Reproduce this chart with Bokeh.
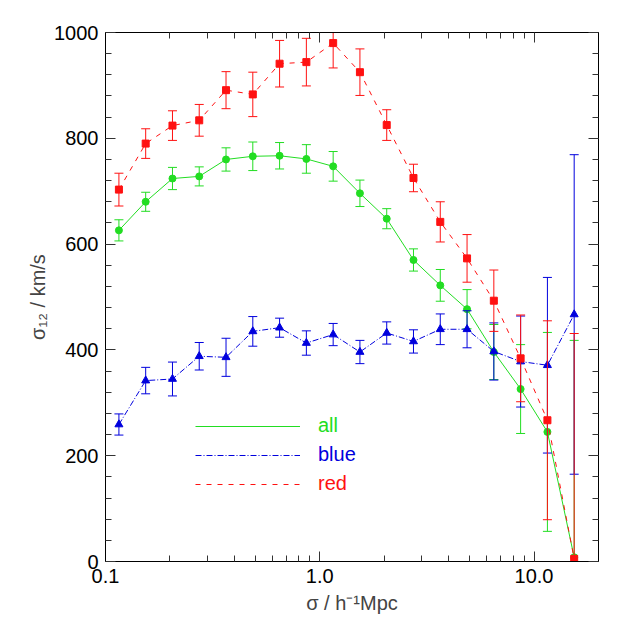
from bokeh.plotting import figure
from bokeh.models import (Range1d, LinearAxis, LogAxis, FixedTicker, SingleIntervalTicker,
                          Legend, LegendItem, ColumnDataSource)
from bokeh.embed import file_html
from bokeh.resources import INLINE

# separation bins (h^-1 Mpc)
r = [0.1155, 0.154, 0.2054, 0.2738, 0.3652, 0.487, 0.6494, 0.866, 1.155, 1.54,
     2.054, 2.738, 3.652, 4.87, 6.494, 8.66, 11.55, 15.4]

all_v = [626, 680, 724, 728, 760, 766, 767, 761, 747, 696, 648, 570, 522, 477, 396, 326, 245, 8]
all_e = [20, 18, 21, 18, 22, 27, 25, 27, 28, 25, 19, 21, 30, 37, 52, 84, 188, 410]

blue_v = [259, 342, 345, 388, 386, 435, 442, 413, 429, 396, 432, 416, 439, 439, 397, 378, 371, 467]
blue_e = [20, 25, 32, 26, 36, 28, 18, 23, 21, 22, 21, 22, 29, 35, 54, 86, 166, 302]

red_v = [703, 790, 824, 834, 891, 883, 941, 944, 980, 925, 825, 725, 642, 573, 493, 384, 267, 5]
red_e = [31, 28, 28, 30, 35, 42, 44, 45, 47, 44, 29, 26, 38, 45, 58, 82, 188, 426]

x_major = [0.1, 1.0, 10.0]
x_minor = [0.2, 0.3, 0.4, 0.5, 0.6, 0.7, 0.8, 0.9, 2, 3, 4, 5, 6, 7, 8, 9, 20]
x_labels = {0.1: "0.1", 1.0: "1.0", 10.0: "10.0"}

GREEN = "#22dd22"
BLUE = "#0000dd"
RED = "#ff1111"
FONT = "Liberation Sans"

p = figure(width=621, height=621, x_axis_type="log", output_backend="svg",
           toolbar_location=None, x_range=Range1d(0.1, 20), y_range=Range1d(0, 1000),
           min_border_left=105, min_border_right=23, min_border_top=32, min_border_bottom=60)
p.grid.visible = False
p.outline_line_color = "black"
p.outline_line_width = 1
p.background_fill_color = "white"
p.border_fill_color = "white"

def style_axis(ax, labels=True):
    ax.major_tick_in = 10
    ax.major_tick_out = 0
    ax.minor_tick_in = 6
    ax.minor_tick_out = 0
    ax.axis_line_color = "black"
    ax.major_tick_line_color = "#333333"
    ax.minor_tick_line_color = "#333333"
    ax.major_label_text_font = FONT
    ax.major_label_text_font_size = "20px"
    ax.major_label_text_color = "black"
    ax.axis_label_text_font = FONT
    ax.axis_label_text_font_size = "20px"
    ax.axis_label_text_font_style = "normal"
    if not labels:
        ax.major_label_text_font_size = "0px"
        ax.major_label_text_color = None

xt = FixedTicker(ticks=x_major, minor_ticks=x_minor)
yt = SingleIntervalTicker(interval=200, num_minor_ticks=5)

xa = p.xaxis[0]
xa.ticker = xt
xa.major_label_overrides = x_labels
xa.axis_label = "σ / h⁻¹Mpc"
xa.major_label_standoff = 7
xa.axis_label_standoff = 6
style_axis(xa)

ya = p.yaxis[0]
ya.ticker = yt
ya.axis_label = "σ₁₂ / km/s"
ya.major_label_standoff = 7
ya.axis_label_standoff = 2
style_axis(ya)

top = LogAxis(ticker=FixedTicker(ticks=x_major, minor_ticks=x_minor))
style_axis(top, labels=False)
p.add_layout(top, "above")
right = LinearAxis(ticker=SingleIntervalTicker(interval=200, num_minor_ticks=5))
style_axis(right, labels=False)
p.add_layout(right, "right")

def series(vals, errs, color, marker, msize, dash):
    lo = [v - e for v, e in zip(vals, errs)]
    hi = [v + e for v, e in zip(vals, errs)]
    src = ColumnDataSource(dict(x=r, y=vals, lo=lo, hi=hi))
    p.segment(x0="x", y0="lo", x1="x", y1="hi", source=src, line_color=color, line_width=1)
    p.scatter(x="x", y="lo", source=src, marker="dash", size=9, line_color=color, line_width=1)
    p.scatter(x="x", y="hi", source=src, marker="dash", size=9, line_color=color, line_width=1)
    ln = p.line(x="x", y="y", source=src, line_color=color, line_width=1, line_dash=dash)
    p.scatter(x="x", y="y", source=src, marker=marker, size=msize,
              fill_color=color, line_color=color)
    return ln

ln_all = series(all_v, all_e, GREEN, "circle", 7, "solid")
ln_blue = series(blue_v, blue_e, BLUE, "triangle", 8, "6 2 1 2")
ln_red = series(red_v, red_e, RED, "square", 7, "5 6")

for name, ln, color, ypos in [("all", ln_all, GREEN, 124), ("blue", ln_blue, BLUE, 95),
                              ("red", ln_red, RED, 66)]:
    leg = Legend(items=[LegendItem(label=name, renderers=[ln])], location=(90, ypos),
                 glyph_width=105, glyph_height=20, label_standoff=18, padding=0, margin=0,
                 border_line_color=None, background_fill_alpha=0,
                 label_text_color=color, label_text_font=FONT, label_text_font_size="20px",
                 label_height=20)
    p.add_layout(leg, "center")

open("out.html", "w").write(file_html(p, INLINE))
